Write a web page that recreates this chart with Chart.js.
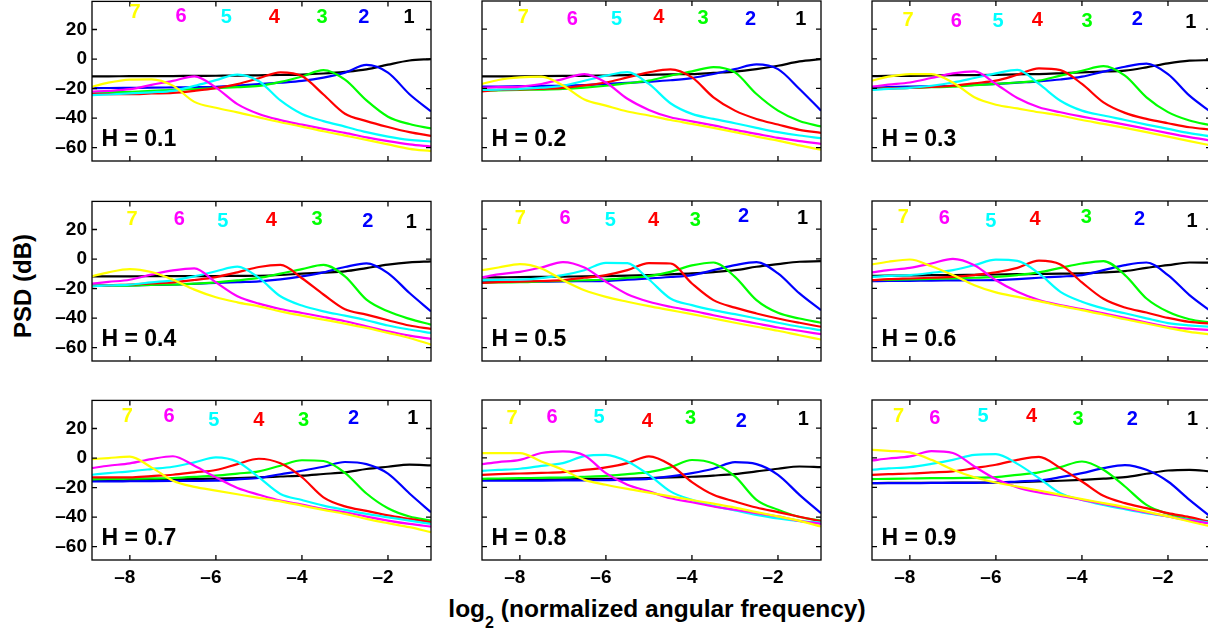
<!DOCTYPE html>
<html>
<head>
<meta charset="utf-8">
<script src="https://cdn.jsdelivr.net/npm/chart.js@4.4.1/dist/chart.umd.min.js"></script>
<style>
  body { margin: 0; background: #fff; width: 1208px; height: 629px; overflow: hidden; position: relative;
         font-family: "Liberation Sans", Arial, sans-serif; }
  .panel { position: absolute; }
  #ytitle { position: absolute; left: 23px; top: 286px; transform: translate(-50%, -50%) rotate(-90deg);
            font-weight: bold; font-size: 24px; white-space: nowrap; color: #000; }
  #xtitle { position: absolute; left: 657px; top: 595px; transform: translateX(-50%);
            font-weight: bold; font-size: 24.5px; line-height: 28px; white-space: nowrap; color: #000; }
  #xtitle sub { font-size: 16px; vertical-align: -11px; line-height: 0; }
</style>
</head>
<body>
<div id="ytitle">PSD (dB)</div>
<div id="xtitle">log<sub>2</sub> (normalized angular frequency)</div>
<script>
// log2 of normalized angular frequency (common x grid)
const freq = [-8.88, -8.5, -8, -7.5, -7, -6.5, -6, -5.5, -5, -4.5, -4, -3.5, -3, -2.5, -2, -1.5, -1];
const hurst = [0.1, 0.2, 0.3, 0.4, 0.5, 0.6, 0.7, 0.8, 0.9];
const xTicks = [-8, -6, -4, -2];
const yTicks = [-60, -40, -20, 0, 20];

// PSD (dB) for curves 1..7, one array per H value
const psdH01 = [
  [-11.7,-11.7,-11.6,-11.6,-11.5,-11.4,-11.3,-11.2,-11.0,-10.8,-10.5,-9.8,-8.7,-7.0,-3.8,-1.0,0],
  [-19.7,-19.6,-19.5,-19.4,-19.2,-19.0,-18.8,-18.0,-17.0,-16.0,-14.8,-12.6,-9.2,-4.0,-9.2,-23.8,-35.4],
  [-22.6,-22.4,-22.2,-21.5,-21.0,-20.3,-19.7,-19.0,-18.2,-15.5,-11.8,-7.5,-14.0,-28.0,-39.0,-44.0,-47.0],
  [-23.8,-23.8,-23.8,-23.3,-22.9,-21.5,-19.7,-17.0,-13.0,-9.0,-11.5,-24.0,-37.0,-42.0,-46.0,-49.5,-52.0],
  [-24.4,-24.0,-23.3,-22.5,-21.5,-18.2,-14.3,-10.5,-15.0,-28.0,-37.2,-42.0,-45.7,-49.5,-52.5,-54.7,-55.8],
  [-22.0,-21.5,-20.4,-17.5,-14.8,-11.8,-19.3,-30.5,-37.2,-41.3,-44.4,-47.3,-50.0,-53.0,-55.6,-57.8,-59.2],
  [-18.8,-16.0,-13.9,-13.7,-18.0,-29.0,-33.0,-36.1,-39.5,-42.8,-45.7,-48.9,-51.8,-54.7,-57.8,-60.8,-62.3]
];
const psdH02 = [
  [-11.9,-11.9,-11.8,-11.7,-11.6,-11.5,-11.3,-11.1,-10.8,-10.5,-10.3,-9.5,-8.7,-7.0,-4.7,-1.8,-0.2],
  [-18.8,-18.7,-18.5,-18.3,-18.2,-17.8,-17.0,-16.3,-15.5,-14.5,-13.0,-10.3,-7.0,-3.8,-7.0,-20.4,-35.0],
  [-21.5,-21.3,-21.0,-20.8,-20.4,-19.5,-18.2,-16.5,-14.8,-11.4,-8.5,-5.6,-9.2,-23.8,-35.0,-42.0,-45.7],
  [-22.0,-21.0,-20.7,-20.3,-19.7,-18.0,-16.0,-12.6,-9.2,-7.2,-12.6,-26.0,-35.0,-40.6,-44.4,-48.0,-50.0],
  [-21.0,-20.8,-20.4,-19.5,-18.2,-14.8,-11.4,-9.0,-17.0,-30.0,-37.2,-40.6,-43.5,-46.6,-49.5,-51.8,-53.6],
  [-19.7,-19.2,-18.8,-17.0,-13.7,-10.3,-16.0,-27.0,-34.5,-39.5,-42.2,-45.0,-48.0,-50.7,-53.4,-55.6,-57.4],
  [-17.0,-14.3,-12.6,-12.1,-18.0,-27.5,-31.6,-35.6,-38.3,-41.3,-43.9,-46.6,-49.5,-52.5,-55.2,-58.5,-61.4]
];
const psdH03 = [
  [-11.7,-11.6,-11.5,-11.3,-11.1,-11.0,-10.8,-10.5,-10.3,-9.8,-9.2,-8.6,-8.0,-5.8,-3.1,-1.3,-0.9],
  [-19.7,-19.2,-18.8,-18.5,-18.2,-17.6,-17.0,-16.1,-15.2,-14.0,-12.1,-8.7,-5.4,-3.3,-10.3,-24.9,-36.0],
  [-20.4,-20.0,-19.7,-19.2,-18.8,-17.8,-17.0,-16.0,-14.8,-11.4,-8.1,-5.0,-11.4,-26.0,-36.0,-41.7,-45.0],
  [-20.4,-20.0,-19.7,-19.0,-18.2,-16.5,-14.8,-10.8,-6.5,-7.7,-17.0,-29.4,-36.5,-40.6,-43.5,-46.2,-47.8],
  [-21.0,-20.3,-19.7,-18.2,-16.0,-13.0,-9.9,-7.5,-17.0,-28.3,-35.0,-38.3,-41.3,-44.4,-47.3,-50.2,-52.5],
  [-18.8,-17.5,-16.0,-13.0,-9.9,-8.5,-17.0,-26.5,-32.7,-36.1,-39.0,-41.7,-44.4,-47.3,-50.2,-52.9,-55.2],
  [-14.8,-12.1,-10.3,-10.3,-16.0,-26.0,-31.0,-33.5,-36.1,-38.3,-41.3,-43.9,-46.6,-49.5,-52.5,-55.6,-58.5]
];
const psdH04 = [
  [-11.7,-11.7,-11.7,-11.6,-11.6,-11.5,-11.5,-11.4,-11.3,-10.8,-9.9,-9.2,-8.3,-6.1,-3.8,-2.3,-1.6],
  [-18.0,-17.9,-17.8,-17.5,-17.3,-16.8,-16.2,-15.6,-15.1,-13.8,-11.7,-9.0,-5.4,-2.9,-9.5,-23.0,-35.4],
  [-18.0,-18.0,-18.0,-17.5,-17.3,-16.6,-15.8,-14.5,-12.8,-9.9,-6.8,-4.0,-11.7,-27.5,-35.4,-40.5,-44.4],
  [-18.5,-17.8,-17.3,-16.5,-15.8,-14.2,-12.2,-9.0,-5.4,-4.0,-13.0,-24.0,-34.0,-37.6,-41.4,-45.0,-47.3],
  [-18.5,-17.8,-17.3,-15.8,-14.4,-11.7,-8.3,-5.2,-12.8,-25.2,-31.5,-35.4,-38.3,-41.4,-45.0,-47.7,-50.0],
  [-16.7,-15.5,-14.0,-10.6,-7.7,-6.3,-15.8,-25.2,-30.2,-33.8,-36.5,-39.2,-42.1,-45.5,-48.9,-51.8,-54.0],
  [-11.7,-9.0,-6.8,-8.8,-14.0,-20.7,-25.9,-29.3,-32.0,-35.4,-38.3,-41.0,-43.7,-46.6,-50.0,-53.4,-57.9]
];
const psdH05 = [
  [-12.6,-12.5,-12.4,-12.2,-12.0,-11.9,-11.7,-11.4,-11.0,-10.5,-9.9,-9.0,-7.7,-5.4,-3.6,-2.0,-1.6],
  [-15.5,-15.5,-15.5,-15.4,-15.3,-15.1,-14.9,-14.1,-13.3,-12.3,-11.0,-7.7,-4.3,-2.2,-9.9,-23.4,-34.7],
  [-16.2,-16.0,-15.8,-15.3,-15.0,-14.5,-14.0,-12.9,-11.7,-8.8,-4.5,-2.5,-12.2,-27.9,-36.5,-40.3,-43.2],
  [-16.2,-15.8,-15.5,-15.0,-14.4,-12.8,-11.0,-7.7,-3.0,-3.2,-16.7,-27.9,-33.0,-36.9,-40.3,-43.2,-45.9],
  [-14.4,-14.2,-14.0,-13.0,-11.0,-7.7,-2.7,-3.0,-14.0,-26.8,-31.3,-34.7,-37.4,-40.3,-43.2,-45.9,-48.2],
  [-12.6,-10.5,-8.8,-5.9,-2.2,-5.9,-15.5,-23.9,-29.0,-32.4,-35.1,-38.1,-41.0,-43.7,-46.4,-48.6,-50.9],
  [-7.7,-5.9,-3.6,-6.5,-14.4,-21.2,-25.7,-29.0,-32.0,-34.7,-37.4,-40.3,-43.2,-45.9,-48.6,-51.6,-54.5]
];
const psdH06 = [
  [-11.5,-11.4,-11.3,-11.1,-11.0,-10.8,-10.6,-10.4,-10.2,-10.0,-9.9,-9.2,-8.3,-6.1,-4.3,-2.5,-2.6],
  [-15.1,-15.0,-14.9,-14.7,-14.6,-14.5,-14.4,-13.7,-12.8,-12.0,-11.0,-7.7,-4.3,-2.5,-11.0,-24.5,-35.5],
  [-14.4,-14.2,-14.0,-13.6,-13.3,-12.8,-12.2,-11.0,-9.2,-6.1,-3.2,-1.6,-11.0,-26.8,-35.8,-40.8,-43.0],
  [-14.4,-13.8,-13.3,-12.8,-12.2,-11.0,-9.2,-6.1,-1.2,-3.8,-16.0,-27.0,-32.9,-36.3,-39.9,-42.6,-43.7],
  [-12.2,-11.6,-11.0,-9.5,-7.7,-4.3,-0.6,-1.4,-9.9,-22.3,-29.0,-33.5,-36.8,-40.2,-43.4,-45.0,-46.0],
  [-9.2,-7.7,-6.1,-3.2,0.0,-4.3,-14.5,-22.3,-27.9,-31.3,-34.0,-36.9,-39.9,-43.0,-45.9,-47.2,-48.2],
  [-3.8,-2.0,-0.5,-5.0,-11.0,-17.8,-22.7,-25.7,-28.6,-31.8,-34.7,-37.6,-40.8,-43.7,-46.6,-49.3,-51.1]
];
const psdH07 = [
  [-14.9,-14.8,-14.7,-14.5,-14.4,-14.2,-14.0,-13.6,-13.1,-12.5,-11.9,-10.8,-9.7,-7.4,-5.9,-4.5,-5.0],
  [-15.8,-15.8,-15.7,-15.6,-15.5,-15.4,-15.3,-14.4,-13.5,-11.0,-8.6,-5.9,-2.7,-4.1,-10.5,-24.0,-36.7],
  [-14.4,-14.2,-14.0,-13.8,-13.5,-12.8,-11.9,-10.5,-9.0,-5.2,-1.5,-2.0,-10.0,-24.0,-34.0,-39.6,-42.3],
  [-13.1,-13.1,-13.1,-12.2,-11.3,-9.7,-8.1,-4.1,-0.5,-3.6,-13.0,-26.6,-32.7,-35.8,-38.8,-41.2,-43.5],
  [-11.3,-10.2,-9.0,-7.5,-5.9,-2.9,0.5,-2.5,-13.1,-24.3,-28.4,-32.2,-35.1,-37.8,-40.1,-42.3,-44.6],
  [-6.8,-5.2,-3.6,-0.7,1.2,-5.2,-13.1,-20.3,-24.8,-28.8,-31.5,-34.5,-36.7,-39.6,-42.3,-44.6,-46.4],
  [-0.7,0.0,0.9,-6.3,-15.3,-19.5,-22.0,-24.5,-27.0,-29.3,-32.2,-35.1,-37.8,-41.2,-44.1,-46.8,-50.2]
];
const psdH08 = [
  [-14.9,-14.8,-14.7,-14.6,-14.5,-14.3,-14.2,-14.0,-13.7,-13.2,-12.8,-12.0,-11.0,-9.2,-7.4,-5.9,-6.3],
  [-15.5,-15.5,-15.5,-15.4,-15.3,-15.2,-15.1,-14.7,-14.2,-12.6,-10.4,-7.4,-3.0,-4.3,-11.5,-25.0,-37.4],
  [-14.2,-14.0,-13.8,-13.5,-13.3,-12.8,-12.2,-11.0,-9.7,-6.5,-1.5,-3.8,-12.6,-28.4,-35.1,-40.0,-42.4],
  [-11.5,-11.0,-10.6,-10.2,-9.7,-8.2,-6.5,-3.6,1.0,-4.7,-16.4,-25.0,-29.5,-33.6,-36.7,-39.8,-42.8],
  [-8.8,-8.2,-7.4,-5.5,-3.6,1.1,2.0,-2.5,-11.5,-22.7,-28.4,-32.5,-35.5,-38.5,-41.0,-42.8,-43.8],
  [-4.3,-2.9,-1.4,3.2,4.3,1.6,-10.4,-18.2,-22.7,-27.3,-30.0,-32.9,-35.1,-37.4,-39.6,-42.6,-44.6],
  [3.2,3.2,3.2,-2.5,-8.1,-14.9,-18.2,-21.0,-23.5,-26.0,-28.5,-31.0,-33.6,-36.7,-39.6,-42.6,-46.4]
];
const psdH09 = [
  [-17.1,-17.0,-16.9,-16.9,-16.8,-16.8,-16.7,-16.4,-16.0,-15.5,-14.9,-14.1,-13.1,-10.8,-8.6,-8.1,-9.2],
  [-17.1,-17.1,-17.1,-17.0,-17.0,-16.9,-16.7,-16.0,-15.3,-13.1,-10.4,-7.0,-4.9,-8.1,-16.0,-28.4,-40.0],
  [-14.4,-14.2,-14.0,-13.8,-13.7,-13.4,-13.1,-11.5,-9.9,-6.3,-2.5,-8.1,-19.4,-31.8,-37.8,-41.4,-43.0],
  [-11.5,-11.0,-10.6,-9.9,-9.2,-7.0,-4.7,-1.4,0.6,-7.0,-16.0,-25.7,-30.6,-34.0,-37.4,-40.1,-43.5],
  [-8.1,-7.2,-6.3,-4.1,-1.4,2.0,2.5,-4.1,-13.7,-23.9,-28.4,-31.8,-34.7,-37.4,-39.6,-41.9,-44.0],
  [-1.8,-0.5,0.9,4.5,3.2,-5.9,-14.4,-20.0,-23.4,-25.7,-28.4,-31.1,-34.0,-36.9,-39.6,-42.3,-44.5],
  [5.4,4.7,3.6,-1.4,-8.1,-13.1,-16.7,-19.4,-22.1,-25.0,-27.9,-30.6,-33.3,-36.3,-39.6,-43.0,-46.4]
];
const panels = [psdH01, psdH02, psdH03, psdH04, psdH05, psdH06, psdH07, psdH08, psdH09];

// where the curve numbers 1..7 sit in each panel (data units)
const numX = [
  [-1.51,-2.56,-3.53,-4.64,-5.76,-6.81,-7.88],
  [-1.47,-2.64,-3.74,-4.77,-5.75,-6.78,-7.92],
  [-1.47,-2.71,-3.88,-5.04,-5.95,-6.92,-8.04],
  [-1.46,-2.47,-3.65,-4.71,-5.84,-6.85,-7.95],
  [-1.43,-2.80,-3.92,-4.89,-5.90,-6.95,-7.99],
  [-1.44,-2.66,-3.90,-5.09,-6.12,-7.20,-8.15],
  [-1.42,-2.80,-3.96,-5.00,-6.05,-7.09,-8.06],
  [-1.41,-2.85,-4.03,-5.04,-6.16,-7.25,-8.18],
  [-1.43,-2.83,-4.09,-5.17,-6.30,-7.42,-8.26]
];
const numY = [
  [28.1,28.1,28.1,28.1,28.1,29.0,31.3],
  [26.3,26.3,27.4,27.9,26.3,26.3,27.9],
  [24.5,26.7,25.2,26.1,25.2,25.2,26.1],
  [24.7,25.4,26.5,26.1,25.4,27.0,26.5],
  [27.2,28.3,26.1,26.1,26.1,27.2,27.2],
  [25.4,26.7,27.6,26.7,25.4,27.2,27.6],
  [27.0,27.0,25.2,25.6,25.6,27.9,27.9],
  [25.6,24.5,26.3,24.5,27.2,27.2,26.3],
  [25.6,25.6,25.6,27.9,27.9,26.7,27.9]
];

const lineColors = ['#000000', '#0000ff', '#00ff00', '#ff0000', '#00ffff', '#ff00ff', '#ffff00'];

const COL_LEFT = [92, 482, 872];
const ROW_TOP = [1, 201, 400];
const PW = 339, PH = 160;
const YW = 70, PT = 16, PR = 6, XH = 40;
const FONT = '"Liberation Sans", Arial, sans-serif';

Chart.defaults.font.family = FONT;

const fmt = v => (v < 0 ? '\u2013' + Math.abs(v) : String(v));

const panelDeco = {
  id: 'panelDeco',
  afterDatasetsDraw(chart, args, opts) {
    const { ctx, chartArea: { left, right, top, bottom }, scales: { x, y } } = chart;
    ctx.save();
    ctx.strokeStyle = '#000';
    ctx.lineWidth = 1.3;
    ctx.strokeRect(left, top, right - left, bottom - top);
    ctx.beginPath();
    x.ticks.forEach(t => {
      const px = x.getPixelForValue(t.value);
      ctx.moveTo(px, bottom); ctx.lineTo(px, bottom - 5);
      ctx.moveTo(px, top); ctx.lineTo(px, top + 5);
    });
    y.ticks.forEach(t => {
      const py = y.getPixelForValue(t.value);
      ctx.moveTo(left, py); ctx.lineTo(left + 5, py);
      ctx.moveTo(right, py); ctx.lineTo(right - 5, py);
    });
    ctx.stroke();

    ctx.font = 'bold 20px ' + FONT;
    ctx.textAlign = 'center';
    ctx.textBaseline = 'middle';
    opts.nx.forEach((vx, k) => {
      ctx.fillStyle = lineColors[k];
      ctx.fillText(String(k + 1), x.getPixelForValue(vx), y.getPixelForValue(opts.ny[k]));
    });

    ctx.font = 'bold 23px ' + FONT;
    ctx.textAlign = 'left';
    ctx.textBaseline = 'alphabetic';
    ctx.fillStyle = '#000';
    ctx.fillText('H = ' + opts.h.toFixed(1), x.getPixelForValue(-8.66), y.getPixelForValue(-58.6));
    ctx.restore();
  }
};

panels.forEach((curves, p) => {
  const row = Math.floor(p / 3), col = p % 3;
  const box = document.createElement('div');
  box.className = 'panel';
  box.style.left = (COL_LEFT[col] - YW) + 'px';
  box.style.top = (ROW_TOP[row] - PT) + 'px';
  box.style.width = (YW + PW + PR) + 'px';
  box.style.height = (PT + PH + XH) + 'px';
  const canvas = document.createElement('canvas');
  box.appendChild(canvas);
  document.body.appendChild(box);

  new Chart(canvas, {
    type: 'line',
    data: {
      datasets: curves.map((ys, k) => ({
        label: String(k + 1),
        data: freq.map((f, i) => ({ x: f, y: ys[i] })),
        borderColor: lineColors[k],
        borderWidth: 2.2,
        pointRadius: 0,
        cubicInterpolationMode: 'monotone',
        order: 7 - k
      }))
    },
    options: {
      animation: false,
      responsive: true,
      maintainAspectRatio: false,
      events: [],
      layout: { padding: { top: PT, right: PR, left: 0, bottom: 0 } },
      plugins: {
        legend: { display: false },
        tooltip: { enabled: false },
        panelDeco: { nx: numX[p], ny: numY[p], h: hurst[p] }
      },
      scales: {
        x: {
          type: 'linear', min: -8.88, max: -1,
          afterBuildTicks: s => { s.ticks = xTicks.map(v => ({ value: v })); },
          afterFit: s => { s.height = XH; },
          grid: { display: false, drawTicks: false },
          border: { display: false },
          ticks: { display: row === 2, color: '#000', font: { size: 19, weight: 'bold' },
                   padding: 6, labelOffset: -5, maxRotation: 0, callback: fmt }
        },
        y: {
          type: 'linear', min: -69, max: 39,
          afterBuildTicks: s => { s.ticks = yTicks.map(v => ({ value: v })); },
          afterFit: s => { s.width = YW; },
          grid: { display: false, drawTicks: false },
          border: { display: false },
          ticks: { display: col === 0, color: '#000', font: { size: 19, weight: 'bold' },
                   padding: 5, callback: fmt }
        }
      }
    },
    plugins: [panelDeco]
  });
});
</script>
</body>
</html>
